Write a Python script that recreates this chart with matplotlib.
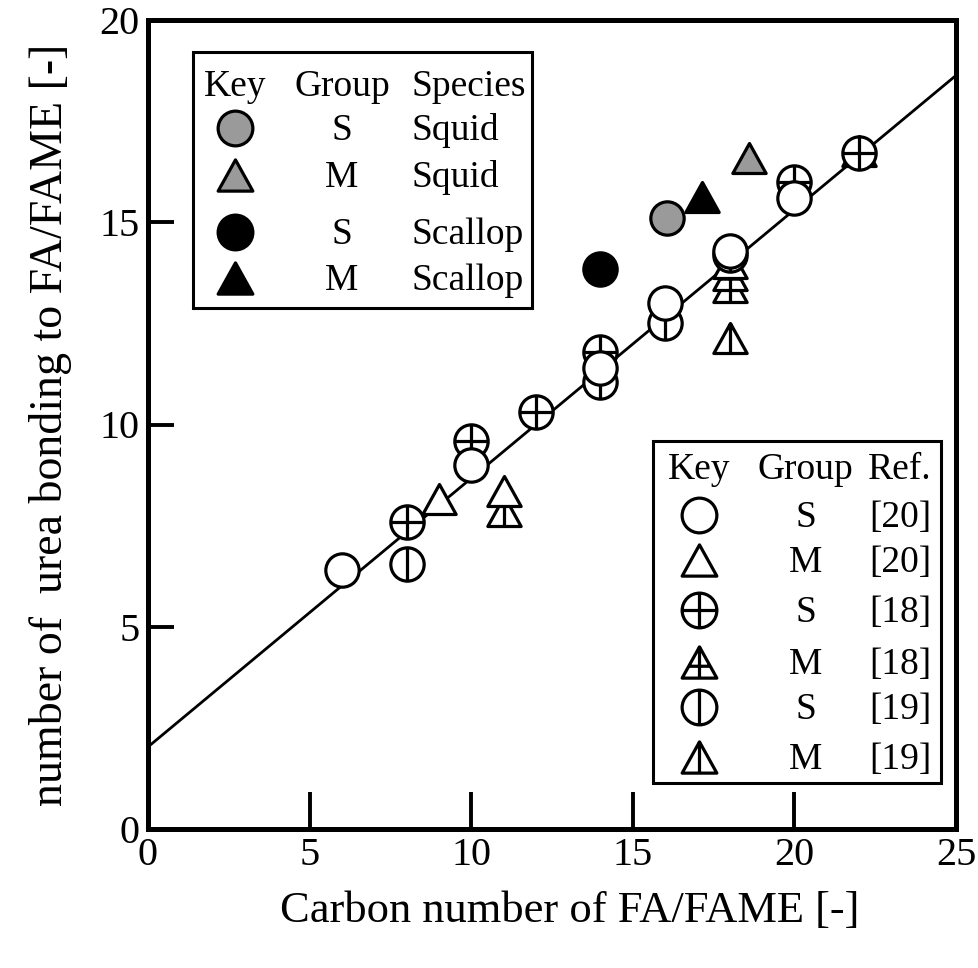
import matplotlib
matplotlib.use('Agg')

import numpy as np
import matplotlib.pyplot as plt
from matplotlib.path import Path

plt.rcParams['font.family'] = ['Liberation Serif', 'DejaVu Serif']

# literature data, S = saturated, M = mono-unsaturated
ref20_s_x = [6, 10, 14, 16, 18, 20]
ref20_s_y = [6.4, 9.0, 11.4, 13.0, 14.3, 15.6]
ref20_m_x = [9, 11, 18]
ref20_m_y = [8.15, 8.35, 14.0]
ref18_s_x = [8, 10, 12, 14, 18, 20, 22]
ref18_s_y = [7.6, 9.6, 10.3, 11.8, 14.2, 16.0, 16.7]
ref18_m_x = [18, 22]
ref18_m_y = [13.7, 16.75]
ref19_s_x = [8, 14, 16]
ref19_s_y = [6.55, 11.05, 12.5]
ref19_m_x = [11, 18, 18]
ref19_m_y = [7.85, 13.4, 12.15]

# this work
squid_s = (16.05, 15.1)
squid_m = (18.6, 16.6)
scallop_s = (14.0, 13.85)
scallop_m = (17.15, 15.62)

# correlation line
fit_a = 0.664
fit_b = 2.03

# marker shapes
tri = Path([[0, 0.9], [-1, -0.9], [1, -0.9], [0, 0.9]],
           [Path.MOVETO, Path.LINETO, Path.LINETO, Path.CLOSEPOLY])
vline_c = Path([[0, -1], [0, 1]])
hline_c = Path([[-1, 0], [1, 0]])
circ_plus = Path.make_compound_path(Path.unit_circle(), hline_c, vline_c)
circ_bar = Path.make_compound_path(Path.unit_circle(), vline_c)
tri_plus = Path.make_compound_path(tri, Path([[0, 0.9], [0, -0.9]]),
                                   Path([[-0.62, -0.216], [0.62, -0.216]]))
tri_bar = Path.make_compound_path(tri, Path([[0, 0.9], [0, -0.9]]))

MS = 24
MEW = 2.3
GRAY = '#9a9a9a'

styles = {
    'r20s': dict(marker='o', mfc='white'),
    'r20m': dict(marker=tri, mfc='white'),
    'r18s': dict(marker=circ_plus, mfc='white'),
    'r18m': dict(marker=tri_plus, mfc='white'),
    'r19s': dict(marker=circ_bar, mfc='white'),
    'r19m': dict(marker=tri_bar, mfc='white'),
    'sq_s': dict(marker='o', mfc=GRAY),
    'sq_m': dict(marker=tri, mfc=GRAY),
    'sc_s': dict(marker='o', mfc='black'),
    'sc_m': dict(marker=tri, mfc='black'),
}

def mark(ax, x, y, key, ms=MS, **kw):
    ax.plot(x, y, linestyle='none', ms=ms, mec='black', mew=MEW,
            **styles[key], **kw)

fig = plt.figure(figsize=(9.79, 9.68), dpi=100)
ax = fig.add_axes([148 / 979, 1 - 829 / 968, 808 / 979, 809 / 968])

xx = np.array([0, 25])
ax.plot(xx, fit_a * xx + fit_b, color='black', lw=2.0, zorder=1)

mark(ax, ref19_m_x, ref19_m_y, 'r19m')
mark(ax, ref18_m_x, ref18_m_y, 'r18m')
mark(ax, ref20_m_x, ref20_m_y, 'r20m')
mark(ax, ref19_s_x, ref19_s_y, 'r19s')
mark(ax, ref18_s_x, ref18_s_y, 'r18s')
mark(ax, ref20_s_x, ref20_s_y, 'r20s')
mark(ax, [squid_s[0]], [squid_s[1]], 'sq_s')
mark(ax, [squid_m[0]], [squid_m[1]], 'sq_m')
mark(ax, [scallop_s[0]], [scallop_s[1]], 'sc_s')
mark(ax, [scallop_m[0]], [scallop_m[1]], 'sc_m')

ax.set_xlim(0, 25)
ax.set_ylim(0, 20)
ax.set_xticks([0, 5, 10, 15, 20, 25])
ax.set_yticks([0, 5, 10, 15, 20])
ax.tick_params(axis='x', direction='in', length=27, width=2.8, labelsize=29, pad=6)
ax.tick_params(axis='y', direction='in', length=19, width=2.8, labelsize=29, pad=6)
for s in ax.spines.values():
    s.set_linewidth(3.6)

ax.set_xlabel('Carbon number of FA/FAME [-]', fontsize=32)
ax.xaxis.set_label_coords(0.522, -0.077)
ax.set_ylabel('number of  urea bonding to FA/FAME [-]', fontsize=33, labelpad=20)

# key tables drawn inside the axes
LFS = 27
tr = ax.transAxes

def box(x0, y0, x1, y1):
    ax.add_patch(plt.Rectangle((x0, y0), x1 - x0, y1 - y0, transform=tr,
                               fill=False, lw=2.2, ec='black', zorder=5))

box(0.0557, 0.644, 0.475, 0.9604)
ax.text(0.1077, 0.918, 'Key', transform=tr, fontsize=LFS, ha='center', va='center')
ax.text(0.240, 0.918, 'Group', transform=tr, fontsize=LFS, ha='center', va='center')
ax.text(0.3267, 0.918, 'Species', transform=tr, fontsize=LFS, ha='left', va='center')
rows_a = [('sq_s', 'S', 'Squid', 0.8665), ('sq_m', 'M', 'Squid', 0.808),
          ('sc_s', 'S', 'Scallop', 0.738), ('sc_m', 'M', 'Scallop', 0.681)]
for key, grp, sp, yy in rows_a:
    mark(ax, [0.1077], [yy], key, ms=25, transform=tr, clip_on=False, zorder=6)
    ax.text(0.240, yy - 0.003, grp, transform=tr, fontsize=LFS, ha='center', va='center')
    ax.text(0.3267, yy - 0.003, sp, transform=tr, fontsize=LFS, ha='left', va='center')

box(0.625, 0.0569, 0.981, 0.4796)
ax.text(0.682, 0.4445, 'Key', transform=tr, fontsize=LFS, ha='center', va='center')
ax.text(0.814, 0.4445, 'Group', transform=tr, fontsize=LFS, ha='center', va='center')
ax.text(0.970, 0.4445, 'Ref.', transform=tr, fontsize=LFS, ha='right', va='center')
rows_b = [('r20s', 'S', '[20]', 0.388), ('r20m', 'M', '[20]', 0.3325),
          ('r18s', 'S', '[18]', 0.2707), ('r18m', 'M', '[18]', 0.2064),
          ('r19s', 'S', '[19]', 0.1508), ('r19m', 'M', '[19]', 0.089)]
for key, grp, ref, yy in rows_b:
    mark(ax, [0.682], [yy], key, ms=25, transform=tr, clip_on=False, zorder=6)
    ax.text(0.814, yy - 0.003, grp, transform=tr, fontsize=LFS, ha='center', va='center')
    ax.text(0.970, yy - 0.003, ref, transform=tr, fontsize=LFS, ha='right', va='center')

fig.savefig('out.png', dpi=100)
